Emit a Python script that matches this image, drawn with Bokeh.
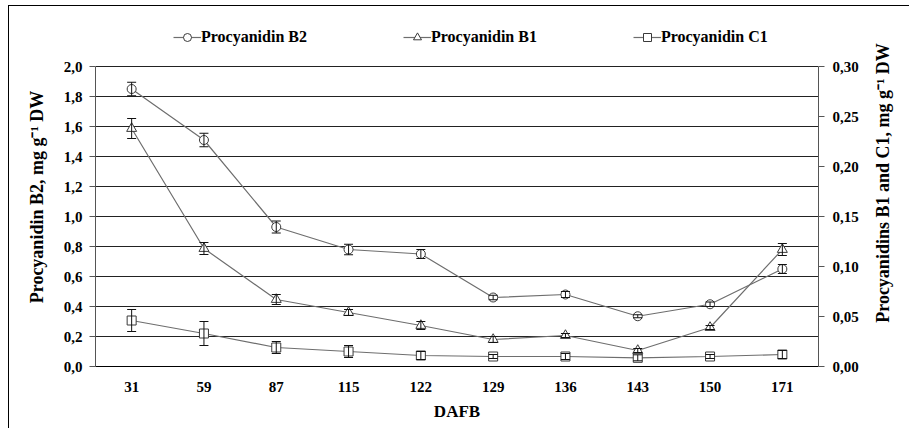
import math
from bokeh.plotting import figure
from bokeh.layouts import row
from bokeh.core.properties import value
from bokeh.models import (Range1d, LinearAxis, FixedTicker, CustomJSTickFormatter,
                          ColumnDataSource, Whisker, TeeHead, Legend, LegendItem)
from bokeh.embed import file_html
from bokeh.resources import INLINE

days = ["31", "59", "87", "115", "122", "129", "136", "143", "150", "171"]
b2 = [1.85, 1.51, 0.93, 0.78, 0.75, 0.46, 0.48, 0.335, 0.415, 0.65]
b2_err = [0.045, 0.045, 0.04, 0.035, 0.03, 0.015, 0.02, 0.01, 0.015, 0.03]
b1 = [0.238, 0.118, 0.067, 0.054, 0.041, 0.027, 0.031, 0.016, 0.039, 0.117]
b1_err = [0.010, 0.006, 0.005, 0.003, 0.004, 0.003, 0.002, 0.002, 0.002, 0.006]
c1 = [0.046, 0.033, 0.019, 0.015, 0.011, 0.010, 0.010, 0.0087, 0.010, 0.012]
c1_err = [0.011, 0.012, 0.006, 0.006, 0.004, 0.002, 0.003, 0.003, 0.002, 0.004]
left_ticks = [0.0, 0.2, 0.4, 0.6, 0.8, 1.0, 1.2, 1.4, 1.6, 1.8, 2.0]
right_ticks = [0.0, 0.05, 0.10, 0.15, 0.20, 0.25, 0.30]
right_title = "Procyanidins B1 and C1, mg g\u207b\u00b9 DW"
LEFT_MAX = 2.0
RIGHT_MAX = 0.30
# frame is extended upward to hold the legend row; axes are bounded to the data range
HEADROOM = 339 / 300

FONT = "Liberation Serif"
LINE = "#6e6e6e"
MK = "#3a3a3a"
BORDER = "1px solid #000"

p = figure(width=857, height=423, x_range=days, y_range=Range1d(0, LEFT_MAX * HEADROOM),
           output_backend="svg", toolbar_location=None,
           min_border_left=86, min_border_right=48, min_border_top=21, min_border_bottom=63)
p.margin = (5, 0, 0, 8)
p.outline_line_color = None
p.extra_y_ranges = {"r": Range1d(0, RIGHT_MAX * HEADROOM)}

# axes
p.yaxis.ticker = FixedTicker(ticks=left_ticks)
p.yaxis.bounds = (0, LEFT_MAX)
p.yaxis.formatter = CustomJSTickFormatter(code="return tick.toFixed(1).replace('.', ',');")
p.yaxis.axis_label = "Procyanidin B2, mg g\u207b\u00b9 DW"
p.yaxis.minor_tick_line_color = None
p.yaxis.major_tick_out = 6
p.yaxis.major_tick_in = 0
p.yaxis.major_label_standoff = 7
p.yaxis.axis_label_standoff = 14
p.yaxis.axis_line_color = "#555555"
p.yaxis.major_tick_line_color = "#555555"

ra = LinearAxis(y_range_name="r", ticker=FixedTicker(ticks=right_ticks), bounds=(0, RIGHT_MAX),
                formatter=CustomJSTickFormatter(code="return tick.toFixed(2).replace('.', ',');"))
ra.minor_tick_line_color = None
ra.major_tick_out = 6
ra.major_tick_in = 0
ra.major_label_standoff = 8
ra.axis_line_color = "#555555"
ra.major_tick_line_color = "#555555"
p.add_layout(ra, "right")

p.xaxis.axis_label = "DAFB"
p.xaxis.major_tick_line_color = None
p.xaxis.major_tick_out = 0
p.xaxis.major_tick_in = 0
p.xaxis.major_label_standoff = 15
p.xaxis.axis_label_standoff = 7
p.xaxis.axis_line_color = "#000000"

for ax in [p.yaxis[0], ra, p.xaxis[0]]:
    ax.major_label_text_font = FONT
    ax.major_label_text_font_style = "bold"
    ax.major_label_text_font_size = "15px"
    ax.major_label_text_color = "#000000"
    ax.axis_label_text_font = FONT
    ax.axis_label_text_font_style = "bold"
    ax.axis_label_text_font_size = "18px"
    ax.axis_label_text_color = "#000000"
p.xaxis.axis_label_text_font_size = "17px"

p.xgrid.grid_line_color = None
p.ygrid.grid_line_color = "#222222"
p.ygrid.grid_line_width = 1

src = ColumnDataSource(dict(
    x=days, b2=b2, b2_lo=[v - e for v, e in zip(b2, b2_err)], b2_hi=[v + e for v, e in zip(b2, b2_err)],
    b1=b1, b1_lo=[v - e for v, e in zip(b1, b1_err)], b1_hi=[v + e for v, e in zip(b1, b1_err)],
    c1=c1, c1_lo=[v - e for v, e in zip(c1, c1_err)], c1_hi=[v + e for v, e in zip(c1, c1_err)],
))

l_b2 = p.line("x", "b2", source=src, line_color=LINE, line_width=1.2)
l_b1 = p.line("x", "b1", source=src, line_color=LINE, line_width=1.2, y_range_name="r")
l_c1 = p.line("x", "c1", source=src, line_color=LINE, line_width=1.2, y_range_name="r")

m_b2 = p.scatter("x", "b2", source=src, marker="circle", size=9, fill_color="white",
                 line_color=MK, line_width=1)
m_b1 = p.scatter("x", "b1", source=src, marker="triangle", size=10, fill_color="white",
                 line_color=MK, line_width=1, y_range_name="r")
m_c1 = p.scatter("x", "c1", source=src, marker="square", size=9, fill_color="white",
                 line_color=MK, line_width=1, y_range_name="r")

for key, rng in [("b2", "default"), ("b1", "r"), ("c1", "r")]:
    w = Whisker(base="x", lower=key + "_lo", upper=key + "_hi", source=src, dimension="height",
                line_color="#111111", line_width=1, level="overlay",
                upper_head=TeeHead(size=9, line_color="#111111", line_width=1),
                lower_head=TeeHead(size=9, line_color="#111111", line_width=1))
    if rng != "default":
        w.y_range_name = rng
    p.add_layout(w)

legend = Legend(items=[
    LegendItem(label="Procyanidin B2", renderers=[l_b2, m_b2]),
    LegendItem(label="Procyanidin B1", renderers=[l_b1, m_b1]),
    LegendItem(label="Procyanidin C1", renderers=[l_c1, m_c1]),
], orientation="horizontal", location=(78, 319))
legend.glyph_width = 28
legend.glyph_height = 20
legend.label_standoff = 0
legend.spacing = 96
legend.padding = 0
legend.margin = 0
legend.border_line_color = None
legend.background_fill_alpha = 0
legend.label_text_font = FONT
legend.label_text_font_style = "bold"
legend.label_text_font_size = "16px"
legend.label_text_color = "#000000"
p.add_layout(legend, "center")
p.styles = {"border-top": BORDER, "border-left": BORDER}

# strip holding the right-axis title (reads bottom-to-top, as in the reference)
t = figure(width=44, height=423, x_range=Range1d(0, 44), y_range=Range1d(0, 423),
           output_backend="svg", toolbar_location=None,
           x_axis_location=None, y_axis_location=None,
           min_border_left=0, min_border_right=0, min_border_top=0, min_border_bottom=0)
t.margin = (5, 0, 0, 0)
t.outline_line_color = None
t.grid.grid_line_color = None
t.text(x=[17], y=[229], text=[right_title], angle=math.pi / 2,
       text_align="center", text_baseline="middle",
       text_font=value(FONT), text_font_style="bold", text_font_size="18px", text_color="#000000")
t.styles = {"border-top": BORDER}

layout = row(p, t)
open("out.html", "w").write(file_html(layout, INLINE))
